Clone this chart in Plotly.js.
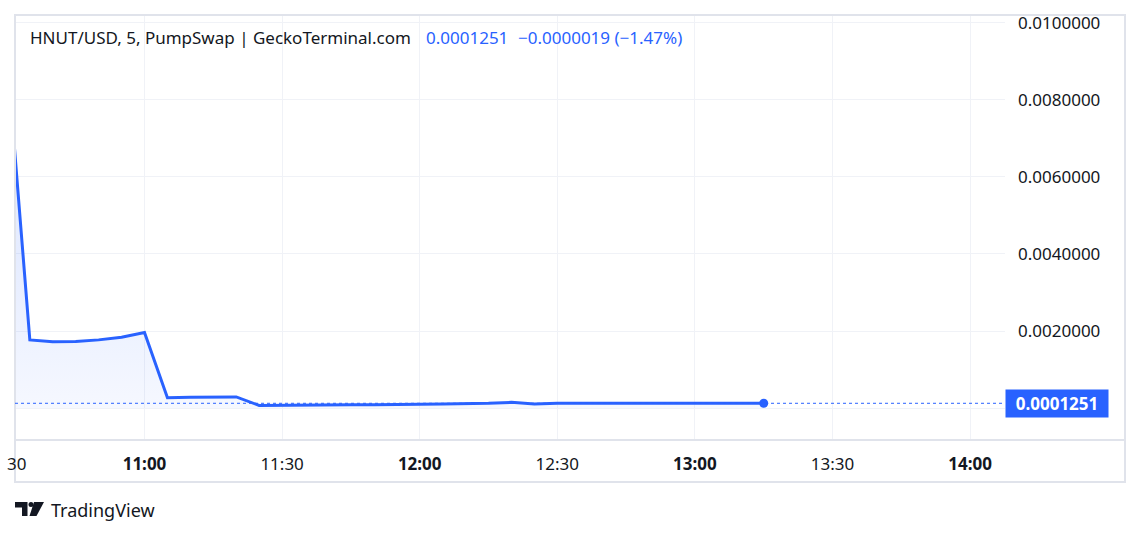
<!DOCTYPE html>
<html>
<head>
<meta charset="utf-8">
<script src="https://cdn.plot.ly/plotly-3.0.1.min.js"></script>
<style>html,body{margin:0;padding:0;background:#fff;}#chart{width:1140px;height:536px;}</style>
</head>
<body>
<div id="chart"></div>
<script>
// ---- data ----
const times = [
  "2024-01-01 10:30","2024-01-01 10:35","2024-01-01 10:40","2024-01-01 10:45","2024-01-01 10:50","2024-01-01 10:55",
  "2024-01-01 11:00","2024-01-01 11:05","2024-01-01 11:10","2024-01-01 11:15","2024-01-01 11:20","2024-01-01 11:25",
  "2024-01-01 11:30","2024-01-01 11:35","2024-01-01 11:40","2024-01-01 11:45","2024-01-01 11:50","2024-01-01 11:55",
  "2024-01-01 12:00","2024-01-01 12:05","2024-01-01 12:10","2024-01-01 12:15","2024-01-01 12:20","2024-01-01 12:25",
  "2024-01-01 12:30","2024-01-01 12:35","2024-01-01 12:40","2024-01-01 12:45","2024-01-01 12:50","2024-01-01 12:55",
  "2024-01-01 13:00","2024-01-01 13:05","2024-01-01 13:10","2024-01-01 13:15"
];
const prices = [
  0.0092, 0.00177, 0.00172, 0.00173, 0.00177, 0.00184,
  0.00196, 0.00027, 0.00028, 0.00029, 0.00029, 0.00007,
  0.00007, 0.000075, 0.00008, 0.000085, 0.00009, 0.00009,
  0.0001, 0.00011, 0.000115, 0.000125, 0.00015, 0.000105,
  0.000125, 0.000128, 0.000128, 0.000128, 0.000128, 0.000128,
  0.000128, 0.000127, 0.000127, 0.0001251
];
const xTickVals = ["2024-01-01 10:30","2024-01-01 11:00","2024-01-01 11:30","2024-01-01 12:00","2024-01-01 12:30","2024-01-01 13:00","2024-01-01 13:30","2024-01-01 14:00"];
const xTickText = ["10:30","<b>11:00</b>","11:30","<b>12:00</b>","12:30","<b>13:00</b>","13:30","<b>14:00</b>"];
const yTickVals = [0, 0.002, 0.004, 0.006, 0.008, 0.010];
const yTickText = ["", "0.0020000", "0.0040000", "0.0060000", "0.0080000", "0.0100000"];
const titleText = "HNUT/USD, 5, PumpSwap | GeckoTerminal.com";
const lastText = "0.0001251";
const changeText = "\u22120.0000019 (\u22121.47%)";
const brandText = "TradingView";

// ---- style ----
const BLUE = "#2962ff";
const TXT = "#131722";
const GRID = "#f0f2f7";
const BORDER = "#e0e3eb";
const FONT = "Noto Sans, Roboto, sans-serif";
const yRange = [-0.000827, 0.010197];
const xRange = ["2024-01-01 10:31:46", "2024-01-01 14:07:36"];
const lastX = times[times.length - 1];
const lastY = prices[prices.length - 1];

const traces = [
  {
    x: times, y: prices, type: "scatter", mode: "lines",
    line: {color: BLUE, width: 3},
    fill: "tozeroy",
    fillgradient: {type: "vertical", start: yRange[0], stop: 0.004,
      colorscale: [[0, "rgba(41,98,255,0.03)"], [1, "rgba(41,98,255,0.12)"]]},
    hoverinfo: "skip"
  },
  {
    x: [lastX], y: [lastY], type: "scatter", mode: "markers",
    marker: {color: BLUE, size: 9}, hoverinfo: "skip", cliponaxis: false
  }
];

// pixel helpers for paper coords (plot: x 15..1005, y 15..440)
const px = v => (v - 15) / 990;
const py = v => (440 - v) / 425;

const layout = {
  width: 1140, height: 536,
  margin: {l: 15, r: 135, t: 15, b: 96},
  paper_bgcolor: "#ffffff", plot_bgcolor: "#ffffff",
  showlegend: false,
  font: {family: FONT, color: TXT, size: 17},
  xaxis: {
    type: "date", range: xRange,
    tickvals: xTickVals, ticktext: xTickText,
    showgrid: true, gridcolor: GRID, gridwidth: 1,
    zeroline: false, showline: false, ticks: "",
    ticklabelstandoff: 12,
    tickfont: {family: FONT, size: 17, color: TXT},
    fixedrange: true
  },
  yaxis: {
    side: "right", range: yRange,
    tickvals: yTickVals, ticktext: yTickText,
    showgrid: true, gridcolor: GRID, gridwidth: 1,
    zeroline: false, showline: false, ticks: "",
    ticklabelstandoff: 12,
    tickfont: {family: FONT, size: 17, color: TXT},
    fixedrange: true
  },
  shapes: [
    // outer frame
    {type: "rect", xref: "paper", yref: "paper", x0: px(15), x1: px(1125), y0: py(482), y1: py(15),
     line: {color: BORDER, width: 2}, layer: "above"},
    // time axis separator
    {type: "line", xref: "paper", yref: "paper", x0: px(15), x1: px(1125), y0: 0, y1: 0,
     line: {color: BORDER, width: 2}, layer: "above"},
    // last price dotted line
    {type: "line", xref: "paper", yref: "y", x0: 0, x1: 1, y0: lastY, y1: lastY,
     line: {color: BLUE, width: 1, dash: "dot"}, layer: "above"},
    // TradingView logo
    {type: "path", xref: "paper", yref: "paper", xsizemode: "pixel", ysizemode: "pixel", xanchor: 0, yanchor: 0,
     path: "M0,-62 H12.5 V-76 H7 V-67.5 H0 Z", fillcolor: TXT, line: {width: 0}},
    {type: "circle", xref: "paper", yref: "paper", xsizemode: "pixel", ysizemode: "pixel", xanchor: 0, yanchor: 0,
     x0: 13.5, x1: 18.5, y0: -62, y1: -67, fillcolor: TXT, line: {width: 0}},
    {type: "path", xref: "paper", yref: "paper", xsizemode: "pixel", ysizemode: "pixel", xanchor: 0, yanchor: 0,
     path: "M19,-62 H29 L21.5,-76 H14.5 Z", fillcolor: TXT, line: {width: 0}}
  ],
  annotations: [
    {xref: "paper", yref: "paper", x: px(28), y: py(38), xanchor: "left", yanchor: "middle",
     text: titleText, showarrow: false, font: {family: FONT, size: 17, color: TXT}},
    {xref: "paper", yref: "paper", x: px(424), y: py(38), xanchor: "left", yanchor: "middle",
     text: lastText, showarrow: false, font: {family: FONT, size: 17, color: BLUE}},
    {xref: "paper", yref: "paper", x: px(516), y: py(38), xanchor: "left", yanchor: "middle",
     text: changeText, showarrow: false, font: {family: FONT, size: 17, color: BLUE}},
    // last price label on the price scale
    {xref: "paper", yref: "y", x: 1, y: lastY, xanchor: "left", yanchor: "middle",
     text: "<b>" + lastY.toFixed(7) + "</b>", showarrow: false,
     bgcolor: BLUE, borderpad: 4, width: 94, height: 19, align: "center",
     font: {family: FONT, size: 17, color: "#ffffff"}},
    // clipped 10:30 tick fragment
    {xref: "paper", yref: "paper", x: px(28), y: py(464), xanchor: "right", yanchor: "middle",
     text: "30", showarrow: false, font: {family: FONT, size: 17, color: TXT}},
    // brand
    {xref: "paper", yref: "paper", x: px(49), y: py(510), xanchor: "left", yanchor: "middle",
     text: brandText, showarrow: false, font: {family: FONT, size: 18, color: TXT}}
  ]
};

Plotly.newPlot("chart", traces, layout, {displayModeBar: false, staticPlot: true});
</script>
</body>
</html>
